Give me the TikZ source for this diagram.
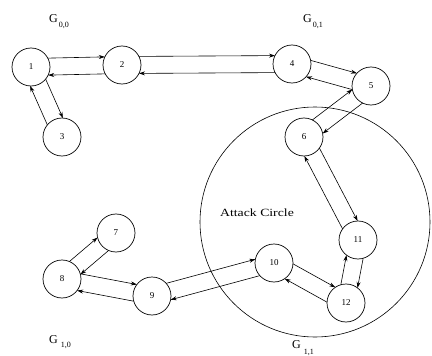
\documentclass[tikz,border=0pt]{standalone}
\usepackage{fontspec}
\setmainfont{Liberation Serif}
\usetikzlibrary{calc,arrows.meta}
\tikzset{
  vert/.style={circle, draw, line width=0.7pt, minimum size=38pt, inner sep=0pt, font=\fontsize{9}{9}\selectfont},
  conn/.style={line width=0.6pt, -{Stealth[length=6pt,width=4pt]}},
  glabel/.style={font=\fontsize{12}{12}\selectfont, inner sep=0pt, anchor=base west},
}
\newcommand{\dirpair}[2]{%
  \draw[conn] ($(#1)!17pt!(#2)!8.5pt!90:(#2)$) -- ($(#2)!17pt!(#1)!8.5pt!-90:(#1)$);
  \draw[conn] ($(#2)!17pt!(#1)!8.5pt!90:(#1)$) -- ($(#1)!17pt!(#2)!8.5pt!-90:(#2)$);
}
\begin{document}
\begin{tikzpicture}[x=1pt,y=-1pt]
  \useasboundingbox (0,0) rectangle (432,356);
  \draw[line width=0.6pt] (315,222) circle[radius=115pt];
  \node[vert] (n1) at (31,67) {1};
  \node[vert] (n2) at (122,65) {2};
  \node[vert] (n3) at (62,137) {3};
  \node[vert] (n4) at (292,64) {4};
  \node[vert] (n5) at (371,86) {5};
  \node[vert] (n6) at (304,137) {6};
  \node[vert] (n7) at (116,233) {7};
  \node[vert] (n8) at (62,279) {8};
  \node[vert] (n9) at (152,296) {9};
  \node[vert] (n10) at (274,263) {10};
  \node[vert] (n11) at (358,240) {11};
  \node[vert] (n12) at (346,303) {12};
  \dirpair{n1}{n2}
  \dirpair{n2}{n4}
  \dirpair{n4}{n5}
  \dirpair{n5}{n6}
  \dirpair{n6}{n11}
  \dirpair{n11}{n12}
  \dirpair{n12}{n10}
  \dirpair{n10}{n9}
  \dirpair{n9}{n8}
  \dirpair{n8}{n7}
  \dirpair{n1}{n3}
  \node[font=\fontsize{11}{11}\selectfont] (ac) at (257,213) {\scalebox{1.25}[1]{Attack Circle}};
  \node[glabel] (g00) at (49,23) {G\hspace{1pt}\raisebox{-5pt}{\fontsize{8}{8}\selectfont 0,0}};
  \node[glabel] (g01) at (303,23) {G\hspace{1pt}\raisebox{-5pt}{\fontsize{8}{8}\selectfont 0,1}};
  \node[glabel] (g10) at (49,343) {G\hspace{3pt}\raisebox{-4pt}{\fontsize{8}{8}\selectfont 1,0}};
  \node[glabel] (g11) at (292,348) {G\hspace{3pt}\raisebox{-6pt}{\fontsize{8}{8}\selectfont 1,1}};
\end{tikzpicture}
\end{document}
